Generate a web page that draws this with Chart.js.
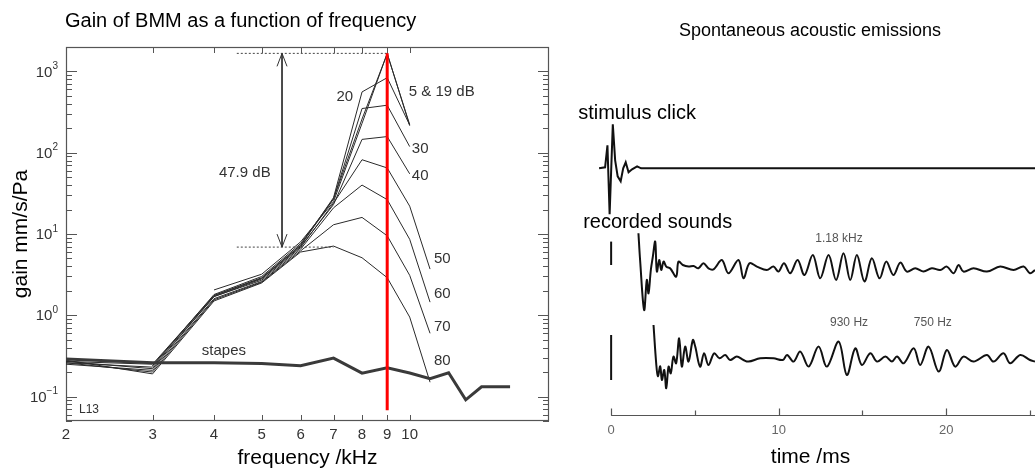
<!DOCTYPE html>
<html>
<head>
<meta charset="utf-8">
<script src="https://cdn.jsdelivr.net/npm/chart.js@4.4.1/dist/chart.umd.min.js"></script>
<style>
  html, body { margin: 0; padding: 0; background: #fff; }
  #wrap { position: relative; width: 1035px; height: 474px; overflow: hidden; background: #fff; }
  #gainChart { position: absolute; left: 0; top: 0; }
  #emisChart { position: absolute; left: 560px; top: 0; }
</style>
</head>
<body>
<div id="wrap">
  <canvas id="gainChart" width="560" height="474"></canvas>
  <canvas id="emisChart" width="475" height="474"></canvas>
</div>
<script>
// ---------- left panel: BM gain vs frequency (L13) ----------
const freqs = [2, 3, 4, 5, 6, 7, 8, 9, 10, 11];
const gain5dB  = [null, null, 2.05, 3.2, 8.0, 25, 230, 1670, 215, null];
const gain19dB = [null, 0.24, 1.8, 3.0, 7.6, 27, 260, 1650, 222, null];
const gain20dB = [null, 0.24, 1.75, 2.9, 7.3, 28, 560, 838, 219, null];
const gain30dB = [0.27, 0.25, 1.75, 2.85, 7.2, 27, 350, 384, 119, null];
const gain40dB = [0.26, 0.23, 1.7, 2.8, 7.0, 23, 146, 158, 55, null];
const gain50dB = [0.27, 0.22, 1.7, 2.7, 6.8, 24, 82, 65, 22, 3.7];
const gain60dB = [0.25, 0.21, 1.6, 2.6, 6.5, 21, 40, 26.5, 8.6, 1.45];
const gain70dB = [0.26, 0.2, 1.55, 2.55, 6.2, 13, 16, 9.5, 3.1, 0.6];
const gain80dB = [0.28, 0.19, 1.5, 2.5, 6.0, 7.1, 5.1, 2.9, 0.95, 0.15];

const stapesFreqs = [2, 3, 4, 5, 6, 7, 8, 9, 10, 11, 12, 13, 14, 16];
const stapesGain  = [0.29, 0.26, 0.26, 0.255, 0.24, 0.297, 0.194, 0.226, 0.195, 0.166, 0.196, 0.091, 0.132, 0.132];

const peakFreq = 9;          // red marker
const peakGain = 1670;
const redLineFloor = 0.068;
const refGain = 6.9;         // lower dotted reference (47.9 dB below peak)
const dottedStart = 4.45;
const refEnd = 7;
const arrowFreq = 5.5;

const freqTicks = [2, 3, 4, 5, 6, 7, 8, 9, 10];
const freqInnerTicks = [3, 4, 5, 6, 7, 8, 9, 10];
const gainDecades = [-1, 0, 1, 2, 3];

const FONT = "'Liberation Sans', Arial, Helvetica, sans-serif";

function pts(xs, ys) {
  const out = [];
  xs.forEach((x, i) => { if (ys[i] != null) out.push({ x: x, y: ys[i] }); });
  return out;
}

function levelSet(label, ys) {
  return {
    label: label,
    data: pts(freqs, ys),
    borderColor: "#2a2a2a",
    borderWidth: 1,
    pointRadius: 0,
    tension: 0,
    fill: false
  };
}

// labels placed at (freq, gain)
const gainLabels = [
  { text: "20", x: 7.38, y: 482, align: "center" },
  { text: "5 & 19 dB", x: 9.96, y: 555, align: "left" },
  { text: "30", x: 10.1, y: 112, align: "left" },
  { text: "40", x: 10.1, y: 52.5, align: "left" },
  { text: "50", x: 11.2, y: 4.95, align: "left" },
  { text: "60", x: 11.2, y: 1.85, align: "left" },
  { text: "70", x: 11.2, y: 0.714, align: "left" },
  { text: "80", x: 11.2, y: 0.275, align: "left" },
  { text: "stapes", x: 4.19, y: 0.364, align: "center" },
  { text: "47.9 dB", x: 4.62, y: 57, align: "center" }
];

const gainDecor = {
  id: "gainDecor",
  beforeDatasetsDraw(chart) {
    const { ctx, chartArea: a, scales } = chart;
    const xs = scales.x, ys = scales.y;
    ctx.save();
    ctx.strokeStyle = "#555";
    ctx.lineWidth = 1.2;
    ctx.strokeRect(a.left + 0.5, a.top + 0.5, a.right - a.left - 1, a.bottom - a.top - 1);
    ctx.lineWidth = 1;
    ctx.beginPath();
    for (let k = -2; k <= 3; k++) {
      for (let m = 1; m <= 9; m++) {
        const v = m * Math.pow(10, k);
        if (v < 0.05 || v > 2000) continue;
        const y = Math.round(ys.getPixelForValue(v)) + 0.5;
        const len = m === 1 ? 11 : 6;
        ctx.moveTo(a.left, y); ctx.lineTo(a.left + len, y);
        ctx.moveTo(a.right, y); ctx.lineTo(a.right - len, y);
      }
    }
    freqInnerTicks.forEach(f => {
      const x = Math.round(xs.getPixelForValue(f)) + 0.5;
      ctx.moveTo(x, a.bottom); ctx.lineTo(x, a.bottom - 6);
      ctx.moveTo(x, a.top); ctx.lineTo(x, a.top + 6);
    });
    ctx.stroke();
    ctx.restore();
  },
  afterDatasetsDraw(chart) {
    const { ctx, chartArea: a, scales } = chart;
    const xs = scales.x, ys = scales.y;
    ctx.save();
    // arrow heads of the 47.9 dB span
    const ax = xs.getPixelForValue(arrowFreq);
    const yTop = ys.getPixelForValue(peakGain);
    const yBot = ys.getPixelForValue(refGain);
    ctx.strokeStyle = "#333";
    ctx.lineWidth = 1;
    ctx.beginPath();
    ctx.moveTo(ax - 5, yTop + 13); ctx.lineTo(ax, yTop); ctx.lineTo(ax + 5, yTop + 13);
    ctx.moveTo(ax - 5, yBot - 13); ctx.lineTo(ax, yBot); ctx.lineTo(ax + 5, yBot - 13);
    ctx.stroke();

    // decade labels 10^k
    ctx.fillStyle = "#333";
    ctx.textBaseline = "middle";
    gainDecades.forEach(k => {
      const y = ys.getPixelForValue(Math.pow(10, k));
      const sup = k < 0 ? "\u2212" + (-k) : String(k);
      ctx.font = "10px " + FONT;
      const w2 = ctx.measureText(sup).width;
      ctx.font = "15px " + FONT;
      const w1 = ctx.measureText("10").width;
      const right = a.left - 8;
      ctx.textAlign = "left";
      ctx.fillText("10", right - w2 - w1, y + 1);
      ctx.font = "10px " + FONT;
      ctx.fillText(sup, right - w2, y - 5);
    });

    // curve labels
    ctx.font = "15px " + FONT;
    gainLabels.forEach(l => {
      ctx.textAlign = l.align;
      ctx.fillText(l.text, xs.getPixelForValue(l.x), ys.getPixelForValue(l.y));
    });
    ctx.font = "12px " + FONT;
    ctx.textAlign = "left";
    ctx.fillText("L13", a.left + 13, a.bottom - 11);

    // panel title
    ctx.fillStyle = "#000";
    ctx.font = "20px " + FONT;
    ctx.textAlign = "left";
    ctx.fillText("Gain of BMM as a function of frequency", 65, 21);
    ctx.restore();
  }
};

new Chart(document.getElementById("gainChart"), {
  type: "line",
  data: {
    datasets: [
      {
        label: "peak",
        data: [{ x: peakFreq, y: peakGain }, { x: peakFreq, y: redLineFloor }],
        borderColor: "#ff0000", borderWidth: 3, pointRadius: 0
      },
      {
        label: "top ref",
        data: [{ x: dottedStart, y: peakGain }, { x: peakFreq, y: peakGain }],
        borderColor: "#444", borderWidth: 1, borderDash: [2, 2], pointRadius: 0
      },
      {
        label: "low ref",
        data: [{ x: dottedStart, y: refGain }, { x: refEnd, y: refGain }],
        borderColor: "#444", borderWidth: 1, borderDash: [2, 2], pointRadius: 0
      },
      {
        label: "span",
        data: [{ x: arrowFreq, y: peakGain }, { x: arrowFreq, y: refGain }],
        borderColor: "#333", borderWidth: 1, pointRadius: 0
      },
      {
        label: "stapes",
        data: pts(stapesFreqs, stapesGain),
        borderColor: "#3a3a3a", borderWidth: 3, pointRadius: 0, tension: 0
      },
      levelSet("5 dB", gain5dB),
      levelSet("19 dB", gain19dB),
      levelSet("20 dB", gain20dB),
      levelSet("30 dB", gain30dB),
      levelSet("40 dB", gain40dB),
      levelSet("50 dB", gain50dB),
      levelSet("60 dB", gain60dB),
      levelSet("70 dB", gain70dB),
      levelSet("80 dB", gain80dB)
    ]
  },
  options: {
    responsive: false,
    animation: false,
    layout: { padding: { top: 47, right: 11, bottom: 0, left: 0 } },
    plugins: { legend: { display: false }, tooltip: { enabled: false } },
    scales: {
      x: {
        type: "logarithmic",
        min: 2,
        max: 19.2,
        grid: { display: false },
        border: { display: false },
        afterBuildTicks: axis => { axis.ticks = freqTicks.map(v => ({ value: v })); },
        afterFit: axis => { axis.height = 53; },
        ticks: {
          autoSkip: false, maxRotation: 0, padding: -3,
          color: "#333", font: { family: FONT, size: 15 },
          callback: v => String(v)
        },
        title: {
          display: true, text: "frequency /kHz", color: "#000",
          font: { family: FONT, size: 21 }, padding: { top: 0, bottom: 3 }
        }
      },
      y: {
        type: "logarithmic",
        min: 0.05,
        max: 2000,
        grid: { display: false },
        border: { display: false },
        ticks: { display: false },
        afterFit: axis => { axis.width = 66; },
        title: {
          display: true, text: "gain mm/s/Pa", color: "#000",
          font: { family: FONT, size: 21 }, padding: { top: 9, bottom: 0 }
        }
      }
    }
  },
  plugins: [gainDecor]
});

// ---------- right panel: click-evoked / spontaneous emissions ----------
const timeTicks = [0, 10, 20];
const timeMinorTicks = [5, 15, 25];

const clickT = [-0.72, -0.36, -0.22, -0.09, 0.1, 0.24, 0.39, 0.57, 0.72, 0.87, 1.04, 1.25, 1.55, 1.79, 25.3];
const clickA = [0, 1, 23, -46, 44, 8, -8, -13, 0, 6, -4, -1, 2, 0, 0];

const rec1T = [1.63, 1.73, 1.97, 2.13, 2.23, 2.37, 2.49, 2.63, 2.73, 2.87, 2.99, 3.13, 3.29, 3.52, 3.88, 4.02, 4.28, 4.62, 4.92, 5.21, 5.51, 5.81, 6.11, 6.61, 7.0, 7.6, 7.9, 8.26, 8.7, 9.29, 9.69, 9.99, 10.32, 10.69, 11.13, 11.54, 12.04, 12.48, 12.98, 13.43, 13.87, 14.27, 14.67, 15.12, 15.56, 16.02, 16.42, 16.85, 17.26, 17.65, 18.15, 18.65, 19.14, 19.64, 20.04, 20.44, 20.74, 21.03, 21.63, 22.43, 23.22, 24.02, 24.62, 25.0, 25.3];
const rec1A = [35, 8, -41.7, -11.7, -25, -1.7, 11.7, 26.7, -3.3, 8.3, -1.7, 6.7, 1.7, 0, -8.3, 6.7, 3.3, 1.7, 2.3, 0, 5, 0, -1, 8.3, -5, 8.3, -10, 5, 1.7, -1.7, 1.7, -3.3, 5, -5, 8.3, -6.7, 13.3, -10, 13.3, -11.7, 15, -11.7, 13.3, -13.3, 10, -10, 6.7, -6.7, 5.7, -3.3, 0, -3.3, 0, -1.7, 1.7, -5, 3.3, -3.3, 0, -3.3, 1.7, -1.7, 1.7, -5, -1.7];

const rec2T = [2.53, 2.69, 2.79, 2.93, 3.03, 3.17, 3.29, 3.43, 3.56, 3.72, 3.88, 4.06, 4.22, 4.42, 4.62, 4.88, 5.02, 5.31, 5.55, 5.81, 6.15, 6.47, 6.81, 7.1, 7.5, 7.9, 8.2, 8.9, 9.69, 10.25, 10.5, 10.89, 11.29, 11.79, 12.38, 12.88, 13.58, 14.07, 14.57, 14.97, 15.47, 15.87, 16.37, 16.76, 17.06, 17.46, 18.06, 18.45, 18.95, 19.55, 20.04, 20.54, 21.03, 21.63, 22.43, 22.82, 23.42, 23.82, 24.42, 25.0, 25.3];
const rec2A = [33.3, -5, -18, -8, -21.7, -11.7, -30, -8.3, -15, 1.7, -5, 20, -8.3, 11.7, -3.3, 18.3, 11.7, -8.3, 5, -6.7, 5, 0, 3.3, -1.7, 1.7, -1.7, -3.3, 0, 0, -1.7, 3.3, -3.3, 6.7, -8.3, 11.7, -8.3, 16.7, -16.7, 10, -6.7, 5, -3.3, 1.7, -3.3, 1.7, -5, 10, -6.7, 11.7, -13.3, 8.3, -8.3, 1.7, -3.3, 3.3, -3.3, 5, -5, 3.3, -1.7, -3.3];

// short calibration bars at t = 0
const barT = [0, 0];
const rec1BarA = [3.3, 26.7];
const rec2BarA = [-21.7, 23.3];

// vertical offsets of the three stacked traces (amplitude units)
const clickOffset = 0;
const rec1Offset = -100;
const rec2Offset = -190;

function trace(ts, as, offset, width, tension) {
  return {
    data: ts.map((t, i) => ({ x: t, y: as[i] + offset })),
    borderColor: "#111",
    borderWidth: width,
    pointRadius: 0,
    tension: tension,
    fill: false
  };
}

const emisLabels = [
  { text: "stimulus click", x: -1.97, y: 55.3, size: 20, color: "#000", align: "left" },
  { text: "recorded sounds", x: -1.67, y: -53.7, size: 20, color: "#000", align: "left" },
  { text: "1.18 kHz", x: 13.6, y: -70.7, size: 12, color: "#555", align: "center" },
  { text: "930 Hz", x: 14.2, y: -154.7, size: 12, color: "#555", align: "center" },
  { text: "750 Hz", x: 19.2, y: -154.7, size: 12, color: "#555", align: "center" }
];

const emisDecor = {
  id: "emisDecor",
  afterDatasetsDraw(chart) {
    const { ctx, chartArea: a, scales } = chart;
    const xs = scales.x, ys = scales.y;
    ctx.save();
    const y = Math.round(a.bottom) + 0.5;
    ctx.strokeStyle = "#555";
    ctx.lineWidth = 1.2;
    ctx.beginPath();
    ctx.moveTo(xs.getPixelForValue(0), y);
    ctx.lineTo(a.right, y);
    timeTicks.forEach(t => {
      const x = Math.round(xs.getPixelForValue(t)) + 0.5;
      ctx.moveTo(x, y); ctx.lineTo(x, y - 7);
    });
    timeMinorTicks.forEach(t => {
      const x = Math.round(xs.getPixelForValue(t)) + 0.5;
      ctx.moveTo(x, y); ctx.lineTo(x, y - 5);
    });
    ctx.stroke();

    ctx.textBaseline = "middle";
    emisLabels.forEach(l => {
      ctx.fillStyle = l.color;
      ctx.font = l.size + "px " + FONT;
      ctx.textAlign = l.align;
      ctx.fillText(l.text, xs.getPixelForValue(l.x), ys.getPixelForValue(l.y));
    });

    ctx.fillStyle = "#000";
    ctx.font = "18px " + FONT;
    ctx.textAlign = "center";
    ctx.fillText("Spontaneous acoustic emissions", 250, 31);
    ctx.restore();
  }
};

new Chart(document.getElementById("emisChart"), {
  type: "line",
  data: {
    datasets: [
      trace(clickT, clickA, clickOffset, 2, 0),
      trace(rec1T, rec1A, rec1Offset, 2, 0.35),
      trace(rec2T, rec2A, rec2Offset, 2, 0.35),
      trace(barT, rec1BarA, rec1Offset, 2, 0),
      trace(barT, rec2BarA, rec2Offset, 2, 0)
    ]
  },
  options: {
    responsive: false,
    animation: false,
    layout: { padding: { top: 100, right: 0, bottom: 0, left: 26 } },
    plugins: { legend: { display: false }, tooltip: { enabled: false } },
    scales: {
      x: {
        type: "linear",
        min: -1.5,
        max: 25.3,
        grid: { display: false },
        border: { display: false },
        afterBuildTicks: axis => { axis.ticks = timeTicks.map(v => ({ value: v })); },
        afterFit: axis => { axis.height = 59; },
        ticks: {
          autoSkip: false, maxRotation: 0, padding: 0,
          color: "#666", font: { family: FONT, size: 13 }
        },
        title: {
          display: true, text: "time /ms", color: "#000",
          font: { family: FONT, size: 21 }, padding: { top: 0, bottom: 4 }
        }
      },
      y: {
        type: "linear",
        display: false,
        min: -246.7,
        max: 68.3
      }
    }
  },
  plugins: [emisDecor]
});
</script>
</body>
</html>
